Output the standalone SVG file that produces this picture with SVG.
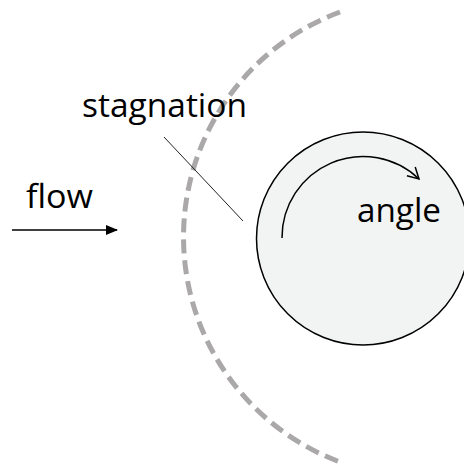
<svg xmlns="http://www.w3.org/2000/svg" width="464" height="474" viewBox="0 0 464 474">
<style>
.lbl{font-family:"Open Sans","Liberation Sans",sans-serif;font-size:32px;fill:#000}
</style>
<defs>
<marker id="fill" markerWidth="12" markerHeight="10" refX="11" refY="5" orient="auto" markerUnits="userSpaceOnUse"><path d="M0,0 L12,5 L0,10 Z" fill="#000"/></marker>
<marker id="open" markerWidth="14" markerHeight="14" refX="12" refY="7" orient="auto" markerUnits="userSpaceOnUse"><path d="M1,1 L12,7 L1,13" fill="none" stroke="#000" stroke-width="1.5"/></marker>
</defs>
<rect width="464" height="474" fill="#fff"/>
<g id="boundary">
<path d="M340,12 A240,240 0 0 0 340,462" fill="none" stroke="#aaa8a8" stroke-width="5" stroke-dasharray="14 7"/>
</g>
<g id="cylinder">
<circle cx="363" cy="238.5" r="106.5" fill="#f2f3f3" stroke="#000" stroke-width="1.5"/>
</g>
<g id="connectors">
<line x1="12" y1="230" x2="117" y2="230" stroke="#000" stroke-width="1.5" marker-end="url(#fill)"/>
<line x1="164" y1="137" x2="243" y2="221" stroke="#222" stroke-width="1"/>
<path d="M282,238 A81,81 0 0 1 419,179" fill="none" stroke="#000" stroke-width="1.5" marker-end="url(#open)"/>
</g>
<g id="labels">
<text class="lbl" x="82" y="117" textLength="165" lengthAdjust="spacingAndGlyphs">stagnation</text>
<text class="lbl" x="26" y="208" textLength="67" lengthAdjust="spacingAndGlyphs">flow</text>
<text class="lbl" x="357" y="222" textLength="84" lengthAdjust="spacingAndGlyphs">angle</text>
</g>
</svg>
